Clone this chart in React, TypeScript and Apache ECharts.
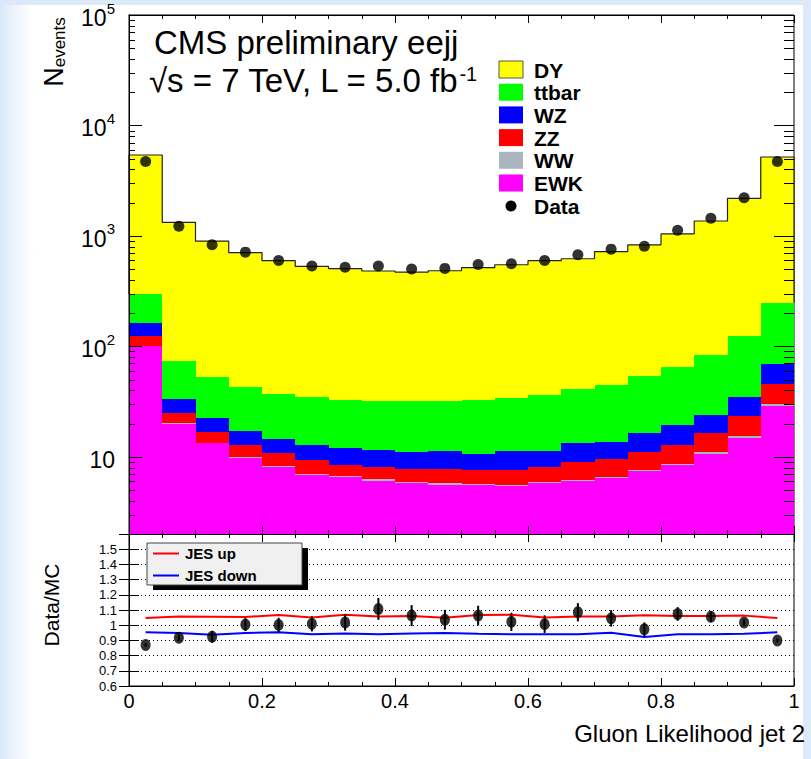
import React, { useEffect, useRef } from "react";
import * as echarts from "echarts";

const FONT = "'Liberation Sans', Arial, Helvetica, sans-serif";

// ---- binning (20 bins of width 0.05 on [0, 1]) ----
const binLow = [0, 0.05, 0.1, 0.15, 0.2, 0.25, 0.3, 0.35, 0.4, 0.45, 0.5, 0.55, 0.6, 0.65, 0.7, 0.75, 0.8, 0.85, 0.9, 0.95];
const binHigh = [0.05, 0.1, 0.15, 0.2, 0.25, 0.3, 0.35, 0.4, 0.45, 0.5, 0.55, 0.6, 0.65, 0.7, 0.75, 0.8, 0.85, 0.9, 0.95, 1.0];
const binCenter = [0.025, 0.075, 0.125, 0.175, 0.225, 0.275, 0.325, 0.375, 0.425, 0.475, 0.525, 0.575, 0.625, 0.675, 0.725, 0.775, 0.825, 0.875, 0.925, 0.975];

// ---- MC contributions per bin (events) ----
const ewk = [100, 20.0, 13.2, 9.8, 8.1, 6.9, 6.5, 6.1, 5.8, 5.6, 5.6, 5.4, 5.75, 6.0, 6.4, 7.4, 8.4, 10.7, 14.9, 29];
const ww = [0.3, 0.2, 0.2, 0.15, 0.15, 0.15, 0.15, 0.15, 0.12, 0.15, 0.12, 0.12, 0.15, 0.18, 0.15, 0.2, 0.2, 0.25, 0.4, 0.8];
const zz = [22.7, 4.7, 3.5, 2.85, 2.65, 2.35, 1.85, 1.85, 1.78, 2.05, 1.88, 2.08, 2.2, 2.82, 3.05, 3.4, 4.3, 5.35, 8.1, 15.9];
const wz = [41, 8.5, 5.5, 4.3, 3.5, 3.3, 3.5, 3.4, 3.4, 3.4, 3.1, 3.6, 3.3, 4.2, 4.0, 5.4, 6.6, 7.6, 11.5, 24.1];
const ttbar = [132, 40.4, 30.6, 25.7, 22.6, 22.2, 20.8, 20.5, 20.7, 20.6, 21.7, 22.8, 24.8, 28.1, 31.2, 37.3, 45.5, 59.7, 89.1, 179];
const dy = [5104, 1254, 843, 664, 559, 494, 472, 449, 439, 452, 483, 514, 560, 580, 677, 776, 977, 1281, 2064, 4931];

// ---- data ----
const dataCounts = [4710, 1222, 830, 713, 600, 533, 519, 533, 501, 508, 552, 560, 600, 675, 759, 807, 1125, 1443, 2213, 4710];

// ---- ratio panel ----
const ratio = [0.870, 0.917, 0.924, 1.004, 1.002, 1.009, 1.018, 1.107, 1.063, 1.036, 1.063, 1.022, 1.007, 1.085, 1.045, 0.973, 1.074, 1.056, 1.018, 0.899];
const ratioErr = [0.012, 0.022, 0.039, 0.042, 0.047, 0.05, 0.054, 0.072, 0.069, 0.065, 0.065, 0.06, 0.058, 0.06, 0.054, 0.045, 0.045, 0.036, 0.022, 0.012];
const jesUp = [1.047, 1.058, 1.056, 1.054, 1.067, 1.051, 1.069, 1.058, 1.060, 1.049, 1.067, 1.069, 1.051, 1.058, 1.058, 1.065, 1.060, 1.060, 1.063, 1.047];
const jesDown = [0.953, 0.949, 0.937, 0.949, 0.953, 0.940, 0.946, 0.940, 0.946, 0.949, 0.944, 0.940, 0.940, 0.940, 0.951, 0.922, 0.940, 0.940, 0.944, 0.953];

// ---- axes ----
const Y_MIN = 2;
const Y_MAX = 100000;
const logDecades = [1, 10, 100, 1000, 10000];
const logMultipliers = [1, 2, 3, 4, 5, 6, 7, 8, 9];
const R_MIN = 0.6;
const R_MAX = 1.6;

const legendEntries = [
  { name: "DY", color: "#ffff00", border: "#555555" },
  { name: "ttbar", color: "#00ff00", border: "" },
  { name: "WZ", color: "#0000ff", border: "" },
  { name: "ZZ", color: "#ff0000", border: "" },
  { name: "WW", color: "#aab5c0", border: "" },
  { name: "EWK", color: "#ff00ff", border: "" },
];

function buildOption(): any {
  const stack = [
    { name: "EWK", values: ewk, color: "#ff00ff" },
    { name: "WW", values: ww, color: "#aab5c0" },
    { name: "ZZ", values: zz, color: "#ff0000" },
    { name: "WZ", values: wz, color: "#0000ff" },
    { name: "ttbar", values: ttbar, color: "#00ff00" },
    { name: "DY", values: dy, color: "#ffff00" },
  ];
  const running = binLow.map(() => 0);
  let ttTop: number[] = [];
  const stackSeries = stack.map((p) => {
    const data = p.values.map((v, i) => {
      const base = Math.max(running[i], Y_MIN);
      running[i] += v;
      return [binLow[i], binHigh[i], base, running[i]];
    });
    if (p.name === "ttbar") ttTop = running.slice();
    return {
      type: "custom",
      name: p.name,
      xAxisIndex: 0,
      yAxisIndex: 0,
      z: 2,
      silent: true,
      encode: { x: [0, 1], y: [2, 3] },
      renderItem: (params: any, api: any) => {
        const a = api.coord([api.value(0), api.value(3)]);
        const b = api.coord([api.value(1), api.value(2)]);
        const x0 = Math.round(a[0]);
        const x1 = Math.round(b[0]);
        const y0 = Math.round(a[1]);
        const y1 = Math.round(b[1]);
        return {
          type: "rect",
          shape: { x: x0, y: y0, width: x1 - x0, height: Math.max(y1 - y0, 0) },
          style: { fill: p.color },
        };
      },
      data,
    };
  });
  const totals = running.slice();

  const outline: number[][] = [[binLow[0], ttTop[0]]];
  totals.forEach((t, i) => {
    outline.push([binLow[i], t]);
    outline.push([binHigh[i], t]);
  });
  outline.push([binHigh[binHigh.length - 1], ttTop[ttTop.length - 1]]);

  const logTicks: number[][] = [];
  logDecades.forEach((d) => {
    logMultipliers.forEach((m) => {
      const v = m * d;
      if (v > Y_MIN && v <= Y_MAX) logTicks.push([0.5, v, m === 1 ? 1 : 0]);
    });
  });
  logTicks.push([0.5, Y_MAX, 1]);

  const axisLineStyle = { lineStyle: { color: "#000", width: 1 } };

  const xBase = (gridIndex: number, position: string, labels: boolean) => ({
    type: "value",
    gridIndex,
    position,
    min: 0,
    max: 1,
    interval: 0.2,
    z: 10,
    axisLine: { show: true, onZero: false, ...axisLineStyle },
    axisTick: { show: true, inside: true, length: 8, lineStyle: { color: "#000" } },
    minorTick: { show: true, splitNumber: 4, length: 4, lineStyle: { color: "#000" } },
    axisLabel: labels
      ? { show: true, fontSize: 20, fontFamily: FONT, color: "#000", margin: 5 }
      : { show: false },
    splitLine: { show: false },
    minorSplitLine: { show: false },
  });

  const option: any = {
    animation: false,
    backgroundColor: "transparent",
    textStyle: { fontFamily: FONT },
    grid: [
      { left: 129, top: 15, width: 665, height: 519, show: true, borderColor: "#000", borderWidth: 1, backgroundColor: "#fff" },
      { left: 129, top: 534, width: 665, height: 152, show: true, borderColor: "#000", borderWidth: 1, backgroundColor: "#fff" },
    ],
    xAxis: [
      xBase(0, "bottom", false),
      xBase(0, "top", false),
      xBase(1, "bottom", true),
      xBase(1, "top", false),
    ],
    yAxis: [
      {
        type: "log",
        logBase: 10,
        gridIndex: 0,
        position: "left",
        min: Y_MIN,
        max: Y_MAX,
        z: 10,
        axisLine: { show: true, ...axisLineStyle },
        axisTick: { show: false },
        splitLine: { show: false },
        axisLabel: {
          show: true,
          margin: 14,
          showMinLabel: false,
          formatter: (v: number) => {
            const e = Math.round(Math.log10(v));
            if (Math.abs(v - Math.pow(10, e)) > 1e-6 * v) return "";
            if (e === 1) return "{b|10}";
            return "{b|10}{s|" + e + "}";
          },
          rich: {
            b: { fontSize: 23, fontFamily: FONT, color: "#000", padding: [6, 0, 0, 0] },
            s: { fontSize: 15, fontFamily: FONT, color: "#000", verticalAlign: "top" },
          },
        },
      },
      {
        type: "log",
        logBase: 10,
        gridIndex: 0,
        position: "right",
        min: Y_MIN,
        max: Y_MAX,
        z: 10,
        axisLine: { show: true, ...axisLineStyle },
        axisTick: { show: false },
        axisLabel: { show: false },
        splitLine: { show: false },
      },
      {
        type: "value",
        gridIndex: 1,
        position: "left",
        min: R_MIN,
        max: R_MAX,
        interval: 0.1,
        z: 10,
        axisLine: { show: true, ...axisLineStyle },
        axisTick: { show: true, inside: true, length: 10, lineStyle: { color: "#000" } },
        axisLabel: {
          show: true,
          showMaxLabel: false,
          showMinLabel: true,
          fontSize: 13,
          lineHeight: 13,
          fontFamily: FONT,
          color: "#000",
          margin: 12,
        },
        splitLine: { show: true, lineStyle: { color: "#000", width: 1, type: [1, 3] } },
      },
      {
        type: "value",
        gridIndex: 1,
        position: "right",
        min: R_MIN,
        max: R_MAX,
        interval: 0.1,
        z: 10,
        axisLine: { show: true, ...axisLineStyle },
        axisTick: { show: true, inside: true, length: 10, lineStyle: { color: "#000" } },
        axisLabel: { show: false },
        splitLine: { show: false },
      },
    ],
    series: [
      ...stackSeries,
      {
        type: "line",
        name: "MC total",
        xAxisIndex: 0,
        yAxisIndex: 0,
        z: 3,
        silent: true,
        symbol: "none",
        showSymbol: false,
        lineStyle: { color: "#222", width: 1.2 },
        data: outline,
      },
      {
        type: "custom",
        name: "log ticks",
        xAxisIndex: 0,
        yAxisIndex: 0,
        z: 11,
        silent: true,
        encode: { x: 0, y: 1 },
        renderItem: (params: any, api: any) => {
          const cs = params.coordSys;
          const major = api.value(2) === 1;
          const y = Math.round(api.coord([0.5, api.value(1)])[1]) + 0.5;
          const lenL = major ? 13 : 6;
          const lenR = major ? 20 : 10;
          return {
            type: "group",
            children: [
              { type: "line", shape: { x1: cs.x, y1: y, x2: cs.x + lenL, y2: y }, style: { stroke: "#000", lineWidth: 1 } },
              { type: "line", shape: { x1: cs.x + cs.width - lenR, y1: y, x2: cs.x + cs.width, y2: y }, style: { stroke: "#000", lineWidth: 1 } },
            ],
          };
        },
        data: logTicks,
      },
      {
        type: "scatter",
        name: "Data",
        xAxisIndex: 0,
        yAxisIndex: 0,
        z: 5,
        silent: true,
        symbol: "circle",
        symbolSize: 11,
        itemStyle: { color: "#000" },
        data: binCenter.map((x, i) => [x, dataCounts[i]]),
      },
      {
        type: "line",
        name: "JES up",
        xAxisIndex: 2,
        yAxisIndex: 2,
        z: 3,
        silent: true,
        symbol: "none",
        showSymbol: false,
        lineStyle: { color: "#ff0000", width: 2 },
        data: binCenter.map((x, i) => [x, jesUp[i]]),
      },
      {
        type: "line",
        name: "JES down",
        xAxisIndex: 2,
        yAxisIndex: 2,
        z: 3,
        silent: true,
        symbol: "none",
        showSymbol: false,
        lineStyle: { color: "#0000ff", width: 2 },
        data: binCenter.map((x, i) => [x, jesDown[i]]),
      },
      {
        type: "custom",
        name: "ratio errors",
        xAxisIndex: 2,
        yAxisIndex: 2,
        z: 4,
        silent: true,
        encode: { x: 0, y: [1, 2] },
        renderItem: (params: any, api: any) => {
          const lo = api.coord([api.value(0), api.value(1)]);
          const hi = api.coord([api.value(0), api.value(2)]);
          return {
            type: "line",
            shape: { x1: lo[0], y1: lo[1], x2: hi[0], y2: hi[1] },
            style: { stroke: "#000", lineWidth: 2 },
          };
        },
        data: binCenter.map((x, i) => [x, ratio[i] - ratioErr[i], ratio[i] + ratioErr[i]]),
      },
      {
        type: "scatter",
        name: "Data/MC",
        xAxisIndex: 2,
        yAxisIndex: 2,
        z: 5,
        silent: true,
        symbol: "circle",
        symbolSize: [10, 12],
        itemStyle: { color: "#000" },
        data: binCenter.map((x, i) => [x, ratio[i]]),
      },
    ],
    graphic: [
      // titles
      {
        type: "text",
        x: 154,
        y: 42,
        z: 20,
        style: { text: "CMS preliminary eejj", fontSize: 33, fontFamily: FONT, fill: "#000", verticalAlign: "middle", align: "left" },
      },
      {
        type: "text",
        x: 149,
        y: 80,
        z: 20,
        style: {
          text: "{m|\u221As = 7 TeV, L = 5.0 fb}{s|-1}",
          verticalAlign: "middle",
          align: "left",
          rich: {
            m: { fontSize: 33, fontFamily: FONT, fill: "#000", color: "#000" },
            s: { fontSize: 20, fontFamily: FONT, fill: "#000", color: "#000", verticalAlign: "top" },
          },
        },
      },
      // top legend
      ...legendEntries.map((e, i) => ({
        type: "rect",
        z: 20,
        shape: { x: 499, y: 61 + i * 22.7, width: 24, height: 17 },
        style: { fill: e.color, stroke: e.border || e.color, lineWidth: e.border ? 1 : 0 },
      })),
      ...legendEntries.map((e, i) => ({
        type: "text",
        x: 534,
        y: 70 + i * 22.7,
        z: 20,
        style: { text: e.name, fontSize: 21, fontWeight: "bold", fontFamily: FONT, fill: "#000", verticalAlign: "middle" },
      })),
      { type: "circle", z: 20, shape: { cx: 511, cy: 206, r: 5.5 }, style: { fill: "#000" } },
      {
        type: "text",
        x: 534,
        y: 206,
        z: 20,
        style: { text: "Data", fontSize: 21, fontWeight: "bold", fontFamily: FONT, fill: "#000", verticalAlign: "middle" },
      },
      // ratio legend
      { type: "rect", z: 20, shape: { x: 153, y: 548, width: 155, height: 42 }, style: { fill: "#000" } },
      { type: "rect", z: 21, shape: { x: 147, y: 543, width: 155, height: 42 }, style: { fill: "#f0f0f0", stroke: "#444", lineWidth: 1 } },
      { type: "line", z: 22, shape: { x1: 153, y1: 553.5, x2: 179, y2: 553.5 }, style: { stroke: "#ff0000", lineWidth: 2 } },
      { type: "line", z: 22, shape: { x1: 153, y1: 575.5, x2: 179, y2: 575.5 }, style: { stroke: "#0000ff", lineWidth: 2 } },
      {
        type: "text",
        x: 185,
        y: 553,
        z: 22,
        style: { text: "JES up", fontSize: 15, fontWeight: "bold", fontFamily: FONT, fill: "#000", verticalAlign: "middle" },
      },
      {
        type: "text",
        x: 185,
        y: 575,
        z: 22,
        style: { text: "JES down", fontSize: 15, fontWeight: "bold", fontFamily: FONT, fill: "#000", verticalAlign: "middle" },
      },
      // axis titles
      {
        type: "text",
        x: 54,
        y: 52,
        rotation: Math.PI / 2,
        z: 20,
        style: {
          text: "{n|N}{s|events}",
          align: "center",
          verticalAlign: "middle",
          rich: {
            n: { fontSize: 27, fontFamily: FONT, fill: "#000", color: "#000" },
            s: { fontSize: 17, fontFamily: FONT, fill: "#000", color: "#000", verticalAlign: "bottom" },
          },
        },
      },
      {
        type: "text",
        x: 51,
        y: 605,
        rotation: Math.PI / 2,
        z: 20,
        style: { text: "Data/MC", fontSize: 21, fontFamily: FONT, fill: "#000", align: "center", verticalAlign: "middle" },
      },
      {
        type: "text",
        x: 805,
        y: 733,
        z: 20,
        style: { text: "Gluon Likelihood jet 2", fontSize: 24, fontFamily: FONT, fill: "#000", align: "right", verticalAlign: "middle" },
      },
    ],
  };
  return option;
}

export default function App() {
  const ref = useRef<HTMLDivElement>(null);
  useEffect(() => {
    if (!ref.current) return;
    const chart = echarts.init(ref.current, null, { renderer: "svg" });
    chart.setOption(buildOption());
    return () => {
      chart.dispose();
    };
  }, []);
  return (
    <div style={{ position: "fixed", left: 0, top: 0, width: 811, height: 759, background: "#dbe9f8", overflow: "hidden" }}>
      <div
        style={{
          position: "absolute",
          left: 0,
          top: 5,
          width: 803,
          height: 754,
          background: "linear-gradient(to right, #d9e8f8 0px, #eef5fc 16px, #ffffff 34px)",
        }}
      />
      <div ref={ref} style={{ position: "absolute", left: 0, top: 0, width: 811, height: 759 }} />
    </div>
  );
}
